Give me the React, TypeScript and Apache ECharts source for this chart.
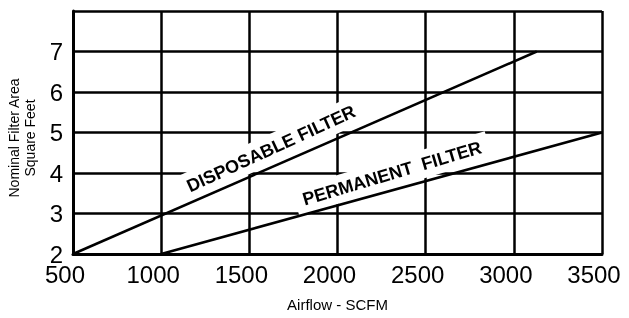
import React, { useEffect, useRef } from "react";
import * as echarts from "echarts";

const xTicks = [500, 1000, 1500, 2000, 2500, 3000, 3500];
const yTicks = [2, 3, 4, 5, 6, 7, 8];
const disposableX = [500, 3130];
const disposableY = [2, 7];
const permanentX = [1000, 3500];
const permanentY = [2, 5];
const labelTexts = ["DISPOSABLE FILTER", "PERMANENT  FILTER"];
const labelAnchors = [
  [1623, 4.6],
  [2309, 3.99],
];
const xName = "Airflow - SCFM";
const yName = "Nominal Filter Area\nSquare Feet";

const FONT = "'Liberation Sans', Arial, sans-serif";

export default function App() {
  const ref = useRef<HTMLDivElement>(null);
  useEffect(() => {
    if (!ref.current) return;
    const chart = echarts.init(ref.current, null, { renderer: "svg" });
    const mk = (xs: number[], ys: number[]) => xs.map((x, i) => [x, ys[i]]);
    const series = [
      { name: "Disposable", data: mk(disposableX, disposableY) },
      { name: "Permanent", data: mk(permanentX, permanentY) },
    ].map((s) => ({
      type: "line",
      name: s.name,
      data: s.data,
      symbol: "none",
      z: 3,
      lineStyle: { color: "#000", width: 2.5 },
    }));
    chart.setOption({
      animation: false,
      grid: { left: 73, right: 27, top: 11, bottom: 64, containLabel: false, outerBoundsMode: "none" },
      xAxis: {
        type: "value",
        min: xTicks[0],
        max: xTicks[xTicks.length - 1],
        interval: 500,
        axisLine: { show: true, lineStyle: { color: "#000", width: 3 } },
        axisTick: { show: false },
        splitLine: { show: true, lineStyle: { color: "#000", width: 2.5 } },
        axisLabel: {
          color: "#000",
          fontSize: 24,
          fontFamily: FONT,
          margin: 8,
          formatter: (v: number) => `{t|${v}}{p|}`,
          rich: {
            t: { fontSize: 24, fontFamily: FONT, color: "#000" },
            p: { width: 16, fontSize: 24 },
          },
        },
      },
      yAxis: {
        type: "value",
        min: yTicks[0],
        max: yTicks[yTicks.length - 1],
        interval: 1,
        axisLine: { show: true, lineStyle: { color: "#000", width: 3 } },
        axisTick: { show: false },
        splitLine: { show: true, lineStyle: { color: "#000", width: 2.5 } },
        axisLabel: {
          color: "#000",
          fontSize: 24,
          fontFamily: FONT,
          margin: 10,
          formatter: (v: number) => (v === yTicks[yTicks.length - 1] ? "" : String(v)),
        },
      },
      series,
    });
    const px = (p: number[]) => chart.convertToPixel({ gridIndex: 0 }, p) as number[];
    const angle = (xs: number[], ys: number[]) => {
      const a = px([xs[0], ys[0]]);
      const b = px([xs[1], ys[1]]);
      return Math.atan2(a[1] - b[1], b[0] - a[0]);
    };
    const angles = [angle(disposableX, disposableY) + 0.02, angle(permanentX, permanentY) + 0.02];
    const graphic: any[] = labelTexts.map((t, i) => {
      const p = px(labelAnchors[i]);
      return {
        type: "text",
        x: p[0],
        y: p[1],
        rotation: angles[i],
        z: 1,
        style: {
          text: t,
          fill: "#000",
          font: `bold 18px ${FONT}`,
          align: "center",
          verticalAlign: "middle",
          backgroundColor: "#fff",
          padding: [5, 8],
        },
      };
    });
    graphic.push({
      type: "text",
      x: 22,
      y: 138,
      rotation: Math.PI / 2,
      style: {
        text: yName,
        fill: "#000",
        font: `14px ${FONT}`,
        align: "center",
        verticalAlign: "middle",
        lineHeight: 16,
      },
    });
    graphic.push({
      type: "text",
      x: px([2000, 2])[0],
      y: 304,
      style: {
        text: xName,
        fill: "#000",
        font: `15px ${FONT}`,
        align: "center",
        verticalAlign: "middle",
      },
    });
    chart.setOption({ graphic });
    return () => chart.dispose();
  }, []);
  return <div ref={ref} style={{ width: 629, height: 318, position: "fixed", left: 0, top: 0 }} />;
}
